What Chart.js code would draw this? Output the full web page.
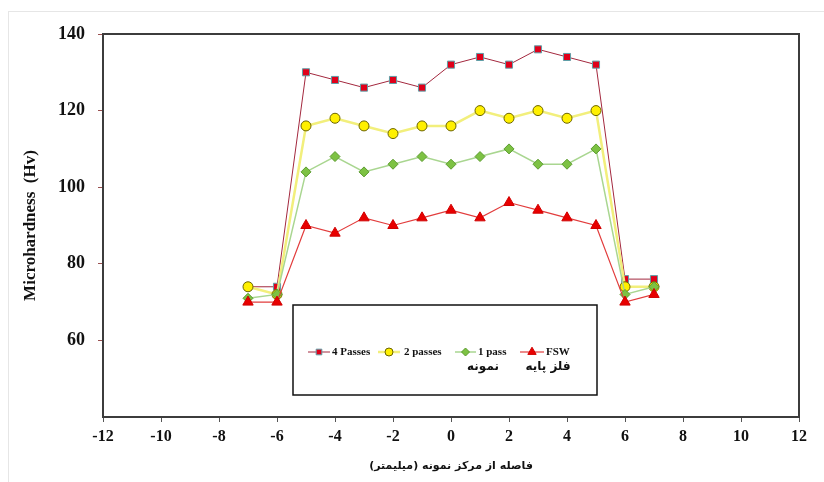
<!DOCTYPE html>
<html>
<head>
<meta charset="utf-8">
<script src="https://cdn.jsdelivr.net/npm/chart.js@4.4.1/dist/chart.umd.min.js"></script>
<style>
  html, body { margin: 0; padding: 0; background: #fff; }
  #wrap { position: relative; width: 824px; height: 482px; }
  #frame { position: absolute; left: 8px; top: 11px; right: 0; bottom: 0;
           border-left: 1px solid #e6e6e6; border-top: 1px solid #e6e6e6; pointer-events: none; }
</style>
</head>
<body>
<div id="wrap">
  <canvas id="chart" width="824" height="482"></canvas>
  <div id="frame"></div>
</div>
<script>
// distance from sample centre (mm)
const positions = [-7, -6, -5, -4, -3, -2, -1, 0, 1, 2, 3, 4, 5, 6, 7];

const fourPasses = [74, 74, 130, 128, 126, 128, 126, 132, 134, 132, 136, 134, 132, 76, 76];
const twoPasses  = [74, 72, 116, 118, 116, 114, 116, 116, 120, 118, 120, 118, 120, 74, 74];
const onePass    = [71, 72, 104, 108, 104, 106, 108, 106, 108, 110, 106, 106, 110, 72, 74];
const fsw        = [70, 70, 90, 88, 92, 90, 92, 94, 92, 96, 94, 92, 90, 70, 72];

const seriesLabels = ['4 Passes', '2 passes', '1 pass', 'FSW'];
const subLabels = ['', '', 'نمونه', 'فلز پایه'];

const xTicks = [-12, -10, -8, -6, -4, -2, 0, 2, 4, 6, 8, 10, 12];
const yTicks = [60, 80, 100, 120, 140];

const serif = '"Liberation Serif", "Times New Roman", serif';

function pts(vals) {
  return positions.map((x, i) => ({ x: x, y: vals[i] }));
}

const styles = [
  { line: '#a3283e', width: 1, fill: '#e0001a', border: '#5f9fa8', pointStyle: 'rect', r: 5 },
  { line: '#f2ef7c', width: 2.5, fill: '#fff000', border: '#6b6400', pointStyle: 'circle', r: 5 },
  { line: '#a9d690', width: 1.5, fill: '#7dc243', border: '#5b9b2e', pointStyle: 'rectRot', r: 5 },
  { line: '#e23c3c', width: 1.2, fill: '#e80000', border: '#d00000', pointStyle: 'triangle', r: 6 }
];

const allSeries = [fourPasses, twoPasses, onePass, fsw];

const datasets = allSeries.map((vals, i) => ({
  label: seriesLabels[i],
  data: pts(vals),
  borderColor: styles[i].line,
  borderWidth: styles[i].width,
  backgroundColor: styles[i].fill,
  pointBackgroundColor: styles[i].fill,
  pointBorderColor: styles[i].border,
  pointBorderWidth: 1,
  pointStyle: styles[i].pointStyle,
  pointRadius: styles[i].r,
  tension: 0,
  order: [3, 2, 1, 0][i]
}));

// box round the plot area
const frameBox = {
  id: 'frameBox',
  beforeDatasetsDraw(chart) {
    const { ctx, chartArea: a } = chart;
    ctx.save();
    ctx.strokeStyle = '#3c3c3c';
    ctx.lineWidth = 2;
    ctx.strokeRect(a.left, a.top, a.right - a.left, a.bottom - a.top);
    ctx.restore();
  }
};

// legend in a white box inside the plot
const boxLegend = {
  id: 'boxLegend',
  afterDraw(chart) {
    const ctx = chart.ctx;
    ctx.save();
    ctx.fillStyle = '#fff';
    ctx.fillRect(293, 305, 304, 90);
    ctx.strokeStyle = '#111';
    ctx.lineWidth = 1.5;
    ctx.strokeRect(293, 305, 304, 90);

    const items = [
      { x0: 308, x1: 330, tx: 332 },
      { x0: 378, x1: 400, tx: 404 },
      { x0: 455, x1: 476, tx: 478 },
      { x0: 520, x1: 544, tx: 546 }
    ];
    const subX = [0, 0, 483, 548];
    const y = 352;
    chart.data.datasets.forEach((ds, i) => {
      const it = items[i];
      ctx.strokeStyle = ds.borderColor;
      ctx.lineWidth = Math.max(1, ds.borderWidth);
      ctx.beginPath();
      ctx.moveTo(it.x0, y);
      ctx.lineTo(it.x1, y);
      ctx.stroke();
      ctx.fillStyle = ds.pointBackgroundColor;
      ctx.strokeStyle = ds.pointBorderColor;
      ctx.lineWidth = 1;
      Chart.helpers.drawPoint(ctx, {
        pointStyle: ds.pointStyle,
        radius: ds.pointRadius * 0.8,
        rotation: 0,
        borderWidth: 1
      }, (it.x0 + it.x1) / 2, y);
      ctx.fillStyle = '#111';
      ctx.font = 'bold 11px ' + serif;
      ctx.textAlign = 'left';
      ctx.textBaseline = 'middle';
      ctx.fillText(ds.label, it.tx, y);
      if (subLabels[i]) {
        ctx.font = 'bold 12px "DejaVu Sans", sans-serif';
        ctx.textAlign = 'center';
        ctx.fillText(subLabels[i], subX[i], 367);
      }
    });
    ctx.restore();
  }
};

new Chart(document.getElementById('chart'), {
  type: 'line',
  data: { datasets: datasets },
  options: {
    responsive: false,
    animation: false,
    layout: { padding: { left: 0, right: 25, top: 34, bottom: 0 } },
    plugins: { legend: { display: false }, tooltip: { enabled: false } },
    scales: {
      x: {
        type: 'linear',
        min: -12,
        max: 12,
        afterBuildTicks(scale) { scale.ticks = xTicks.map(v => ({ value: v })); },
        afterFit(scale) { scale.height = 65; },
        grid: { drawOnChartArea: false, drawTicks: true, tickLength: 5, tickColor: '#555' },
        border: { display: false },
        ticks: { color: '#111', padding: 5, maxRotation: 0, font: { family: serif, size: 16, weight: 'bold' } },
        title: {
          display: true,
          text: 'فاصله از مرکز نمونه (میلیمتر)',
          color: '#111',
          font: { family: '"DejaVu Sans", sans-serif', size: 11, weight: 'bold' },
          padding: { top: 8, bottom: 9 }
        }
      },
      y: {
        min: 40,
        max: 140,
        afterBuildTicks(scale) { scale.ticks = yTicks.map(v => ({ value: v })); },
        afterFit(scale) { scale.width = 103; },
        grid: { drawOnChartArea: false, drawTicks: true, tickLength: 5, tickColor: '#9a5050' },
        border: { display: false },
        ticks: { color: '#111', padding: 13, font: { family: serif, size: 18, weight: 'bold' } },
        title: {
          display: true,
          text: 'Microhardness  (Hv)',
          color: '#111',
          font: { family: serif, size: 17, weight: 'bold' },
          padding: { top: 20, bottom: 4 }
        }
      }
    }
  },
  plugins: [frameBox, boxLegend]
});
</script>
</body>
</html>
